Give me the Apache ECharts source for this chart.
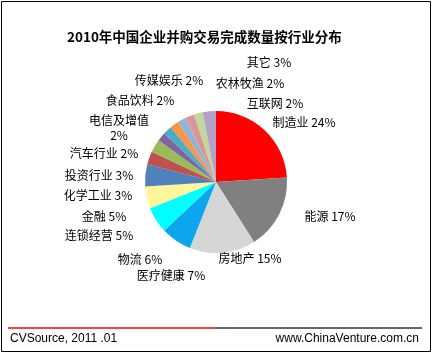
<!DOCTYPE html>
<html>
<head>
<meta charset="utf-8">
<script src="https://cdn.jsdelivr.net/npm/echarts@6/dist/echarts.min.js"></script>
<style>
html, body { margin: 0; padding: 0; background: #fff; }
#main { width: 435px; height: 354px; }
</style>
</head>
<body>
<div id="main"></div>
<script>
// 行业分类及占比 (顺时针，从12点开始)
var industries = ['制造业', '能源', '房地产', '医疗健康', '物流', '连锁经营', '金融', '化学工业',
    '投资行业', '汽车行业', '电信及增值', '食品饮料', '传媒娱乐', '农林牧渔', '互联网', '其它'];
var shares = [24, 17, 15, 7, 6, 5, 5, 3, 3, 2, 2, 2, 2, 2, 2, 3];
var sliceColors = ['#ff0000', '#808080', '#d6d6d6', '#0ba6ee', '#00ffff', '#fff59a', '#4f81bd', '#c0504d',
    '#9bbb59', '#8064a2', '#4bacc6', '#f79646', '#95b3d7', '#d99694', '#c3d69b', '#b3a2c7'];
// 标签中心位置 (与Excel原图一致)
var labelAnchors = [[304, 122], [330, 216], [250, 258], [171, 275], [140, 259], [99, 235], [104, 216], [98, 195],
    [99, 175], [104, 153], [119, 128], [140, 100], [169, 80], [250, 83], [275, 103], [269, 62]];
var titleText = '2010年中国企业并购交易完成数量按行业分布';
var sourceText = 'CVSource, 2011 .01';
var siteText = 'www.ChinaVenture.com.cn';

var chart = echarts.init(document.getElementById('main'));

var pieData = [];
for (var i = 0; i < industries.length; i++) {
    pieData.push({ name: industries[i], value: shares[i], itemStyle: { color: sliceColors[i] } });
}

var option = {
    animation: false,
    backgroundColor: '#fff',
    title: {
        text: titleText,
        left: 67,
        top: 30,
        padding: 0,
        textStyle: {
            fontFamily: 'Noto Sans CJK SC',
            fontSize: 13.5,
            fontWeight: 'bold',
            color: '#000'
        }
    },
    graphic: [
        { type: 'rect', shape: { x: 1.5, y: 1.5, width: 429, height: 350 },
          style: { fill: null, stroke: '#000', lineWidth: 1 } },
        { type: 'line', shape: { x1: 8, y1: 328, x2: 215, y2: 328 },
          style: { stroke: '#ff0000', lineWidth: 1.5 } },
        { type: 'line', shape: { x1: 215, y1: 328, x2: 422, y2: 328 },
          style: { stroke: '#333', lineWidth: 1.5 } },
        { type: 'text', left: 10, top: 333,
          style: { text: sourceText, font: '12px "Liberation Sans"', fill: '#000' } },
        { type: 'text', right: 16, top: 333,
          style: { text: siteText, font: '12px "Liberation Sans"', fill: '#000' } }
    ],
    series: [{
        type: 'pie',
        center: [216, 182],
        radius: 71,
        startAngle: 90,
        clockwise: true,
        avoidLabelOverlap: false,
        data: pieData,
        label: {
            show: true,
            position: 'outside',
            fontFamily: 'Noto Sans CJK SC',
            fontSize: 12,
            color: '#000',
            lineHeight: 15,
            align: 'center',
            formatter: function (p) {
                var sep = p.name.length > 4 ? '\n' : ' ';
                return p.name + sep + p.value + '%';
            }
        },
        labelLine: { show: false },
        labelLayout: function (params) {
            var a = labelAnchors[params.dataIndex];
            return { x: a[0], y: a[1], align: 'center', verticalAlign: 'middle' };
        },
        emphasis: { disabled: true }
    }]
};

chart.setOption(option);
window.addEventListener('resize', function () {
    chart.resize();
});
</script>
</body>
</html>
